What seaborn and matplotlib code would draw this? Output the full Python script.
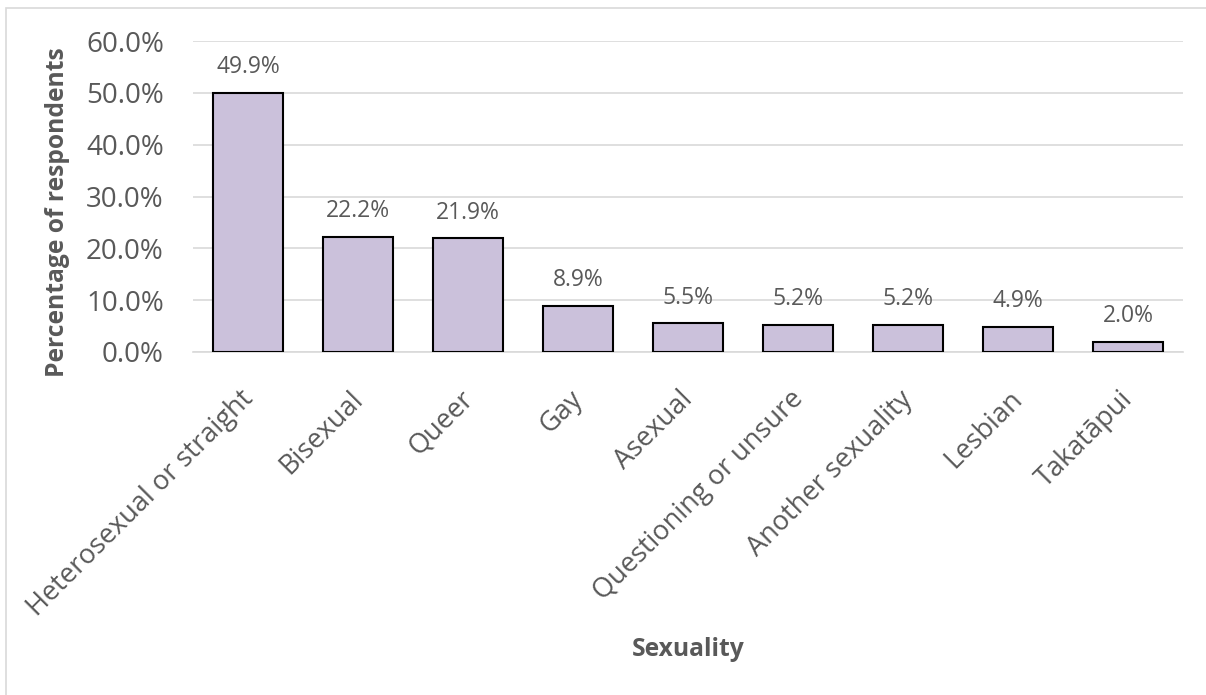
import matplotlib
matplotlib.use("Agg")
import matplotlib.pyplot as plt
import matplotlib.transforms as mtrans
import seaborn as sns
import pandas as pd
from matplotlib.patches import Rectangle
from matplotlib.ticker import FuncFormatter, MultipleLocator

categories = ["Heterosexual or straight", "Bisexual", "Queer", "Gay", "Asexual",
              "Questioning or unsure", "Another sexuality", "Lesbian", "Takatāpui"]
values = [49.9, 22.2, 21.9, 8.9, 5.5, 5.2, 5.2, 4.9, 2.0]
value_labels = ["49.9%", "22.2%", "21.9%", "8.9%", "5.5%", "5.2%", "5.2%", "4.9%", "2.0%"]

sns.set_theme(style="white")
plt.rcParams['font.family'] = ['Open Sans', 'DejaVu Sans']

W, H = 1206, 695
fig = plt.figure(figsize=(W / 100, H / 100), dpi=100)
ax = fig.add_axes([193 / W, 1 - 352 / H, (1183 - 193) / W, (352 - 41) / H])

df = pd.DataFrame({"Sexuality": categories, "Pct": values})
sns.barplot(data=df, x="Sexuality", y="Pct", color="#CBC1DB", saturation=1,
            edgecolor="black", linewidth=1.5, width=0.645, ax=ax, zorder=3)

text_col = "#595959"
ax.set_ylim(0, 60)
ax.set_xlim(-0.5, len(categories) - 0.5)
ax.yaxis.set_major_locator(MultipleLocator(10))
ax.yaxis.set_major_formatter(FuncFormatter(lambda v, p: f"{v:.1f}%"))
ax.grid(axis="y", color="#D9D9D9", linewidth=1.2, zorder=0)
ax.set_axisbelow(True)
for s in ["top", "right", "left"]:
    ax.spines[s].set_visible(False)
ax.spines["bottom"].set_color("#D9D9D9")
ax.spines["bottom"].set_linewidth(1.2)
ax.spines["bottom"].set_zorder(2)

ax.tick_params(axis="y", labelsize=20, labelcolor=text_col, length=0, pad=21)
ax.tick_params(axis="x", labelsize=19.5, labelcolor=text_col, length=0, pad=24)
shift = mtrans.ScaledTranslation(-9 / 100, 0, fig.dpi_scale_trans)
for lab in ax.get_xticklabels():
    lab.set_rotation(45)
    lab.set_ha("right")
    lab.set_rotation_mode("anchor")
    lab.set_transform(lab.get_transform() + shift)

for i, (v, t) in enumerate(zip(values, value_labels)):
    ax.annotate(t, (i, v), xytext=(0, 10), textcoords="offset points",
                ha="center", va="bottom", fontsize=16.5, color=text_col)

ax.set_ylabel("Percentage of respondents", fontsize=17.7, fontweight="bold", color=text_col)
ax.yaxis.set_label_coords(-0.124, 0.45)
ax.set_xlabel("")
fig.text(688 / W, 1 - 650 / H, "Sexuality", ha="center", va="center",
         fontsize=17.7, fontweight="bold", color=text_col)

fig.patches.append(Rectangle((6 / W, -0.1), 1.2, 1 - 8 / H + 0.1, transform=fig.transFigure,
                             fill=False, edgecolor="#D9D9D9", linewidth=1.2))

fig.savefig("out.png", dpi=100)
